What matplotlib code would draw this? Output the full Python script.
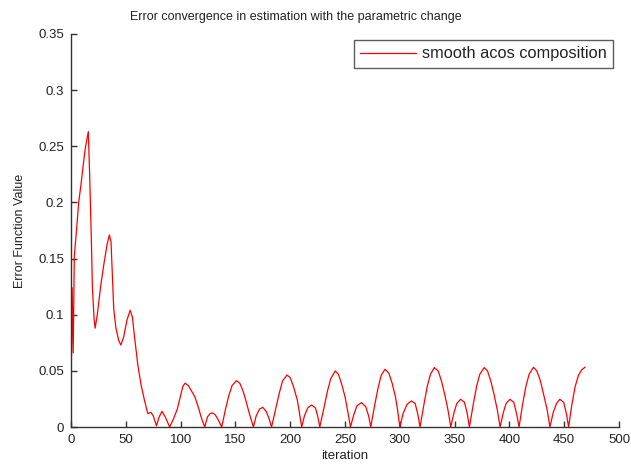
import matplotlib
matplotlib.use("Agg")
import matplotlib.pyplot as plt

plt.rcParams['font.family'] = ['Liberation Sans', 'DejaVu Sans']

# iteration / error value
iteration = [0, 1, 2, 3, 5, 7, 9, 11, 13, 15.8, 17, 18.5, 19.5, 21, 22, 24, 27, 30, 33, 35,
             36.5, 38, 39, 41, 43.5, 45.5, 48, 51, 54, 56, 58, 61, 64, 67, 70, 73, 75, 78, 80, 83,
             86, 90, 93, 97, 100, 102, 104, 107, 110, 113, 116, 119, 122, 124.5, 127, 129, 131.5, 134, 137.5, 141,
             144, 147, 151, 154, 157, 160, 163, 166.4, 169, 172, 175, 178, 180.5, 183, 187, 190, 193, 197, 200, 203,
             206.5, 208.5, 210.5, 213, 216, 219.5, 223, 225, 227, 231, 234, 237, 241, 244, 247, 250, 252.5, 255, 258, 261,
             265, 269, 271.5, 273.5, 277, 280, 283, 286.5, 290, 293, 296, 298, 300, 303, 306.5, 310.5, 314, 316.5, 318.5, 322,
             325, 328, 331.5, 335, 338, 341, 344, 346.5, 349.5, 352, 355.5, 359, 361.5, 363.5, 367, 370, 373, 377, 380, 383,
             386, 389, 391.5, 394.5, 397, 400.5, 404, 406.5, 408.8, 412, 415, 418, 422, 425, 428, 431, 434.5, 437, 440, 443,
             446, 449.5, 452, 454, 457, 460, 463, 466, 469]
error_val = [0.022, 0.124, 0.066, 0.152, 0.175, 0.200, 0.215, 0.232, 0.248, 0.263, 0.225, 0.170, 0.125, 0.097, 0.088, 0.100, 0.125, 0.145, 0.163, 0.171,
             0.165, 0.130, 0.105, 0.088, 0.077, 0.073, 0.080, 0.095, 0.104, 0.098, 0.080, 0.055, 0.037, 0.024, 0.012, 0.013, 0.010, 0.001, 0.008, 0.014,
             0.009, 0.0, 0.006, 0.016, 0.028, 0.036, 0.039, 0.037, 0.032, 0.027, 0.018, 0.008, 0.0, 0.009, 0.012, 0.0125, 0.011, 0.007, 0.0, 0.016,
             0.028, 0.037, 0.0413, 0.039, 0.032, 0.022, 0.011, 0.0, 0.010, 0.016, 0.0175, 0.014, 0.008, 0.0, 0.017, 0.030, 0.041, 0.0463, 0.044, 0.036,
             0.024, 0.012, 0.0, 0.010, 0.017, 0.0196, 0.017, 0.010, 0.0, 0.018, 0.032, 0.043, 0.0499, 0.047, 0.038, 0.027, 0.014, 0.0, 0.011, 0.019,
             0.0217, 0.018, 0.010, 0.0, 0.019, 0.034, 0.046, 0.0514, 0.048, 0.039, 0.027, 0.015, 0.0, 0.012, 0.020, 0.0232, 0.021, 0.011, 0.0, 0.020,
             0.036, 0.047, 0.0529, 0.050, 0.041, 0.029, 0.015, 0.0, 0.013, 0.021, 0.0247, 0.022, 0.012, 0.0, 0.020, 0.036, 0.047, 0.0529, 0.050, 0.041,
             0.029, 0.015, 0.0, 0.013, 0.021, 0.0247, 0.022, 0.012, 0.0, 0.020, 0.036, 0.047, 0.0532, 0.050, 0.042, 0.030, 0.015, 0.0, 0.013, 0.021,
             0.0247, 0.022, 0.012, 0.0, 0.020, 0.036, 0.046, 0.051, 0.0532]

xticks = [0, 50, 100, 150, 200, 250, 300, 350, 400, 450, 500]
yticks = [0, 0.05, 0.1, 0.15, 0.2, 0.25, 0.3, 0.35]
ytick_labels = ['0', '0.05', '0.1', '0.15', '0.2', '0.25', '0.3', '0.35']

fig = plt.figure(figsize=(6.31, 4.71), dpi=100)
ax = fig.add_axes([71/631, 1 - 427/471, 548/631, 393/471])

ax.plot(iteration, error_val, color='#ff0000', lw=0.9, label='smooth acos composition')

ax.set_xlim(0, 500)
ax.set_ylim(0, 0.35)
ax.set_xticks(xticks)
ax.set_yticks(yticks)
ax.set_yticklabels(ytick_labels)

for s in ['top', 'right']:
    ax.spines[s].set_visible(False)
for s in ['left', 'bottom']:
    ax.spines[s].set_color('#333333')
    ax.spines[s].set_linewidth(1.0)
ax.tick_params(direction='in', length=4, width=1.0, color='#333333',
               labelsize=9.5, labelcolor='#222222', pad=5)

ax.set_xlabel('iteration', fontsize=9.5, color='#222222', labelpad=3)
ax.set_ylabel('Error Function Value', fontsize=9, color='#222222', labelpad=9)
fig.text(296/631, 1 - 17/471, 'Error convergence in estimation with the parametric change',
         ha='center', va='center', fontsize=9, color='#222222')

leg = ax.legend(loc='upper right', fontsize=11.8, frameon=True, fancybox=False,
                handlelength=3.4, borderaxespad=0.35, handletextpad=0.35,
                borderpad=0.4)
leg.get_frame().set_edgecolor('#333333')
leg.get_frame().set_linewidth(1.0)
for t in leg.get_texts():
    t.set_color('#222222')

fig.savefig('out.png', dpi=100)
